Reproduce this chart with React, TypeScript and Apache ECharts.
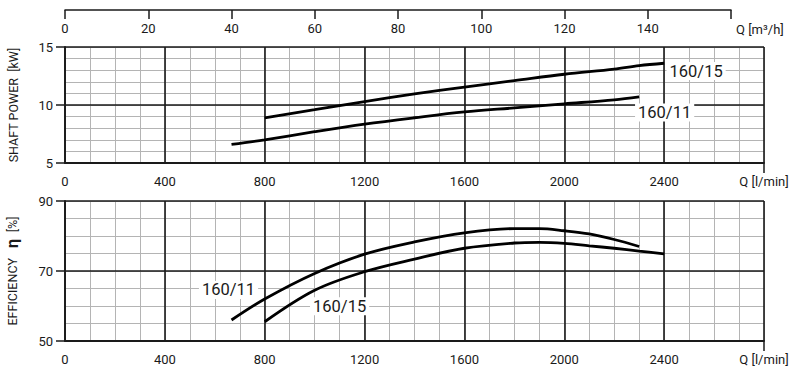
import React, { useEffect, useRef } from "react";
import * as echarts from "echarts";

// Flow axis (l/min) and m³/h scale
const m3hTicks = [0, 20, 40, 60, 80, 100, 120, 140, 160];
const m3hLabels = [0, 20, 40, 60, 80, 100, 120, 140];
const effTicks = [50, 70, 90];

// Shaft power [kW]
const flowPower15 = [800, 1000, 1200, 1400, 1600, 1800, 2000, 2200, 2300, 2400];
const power15 = [8.9, 9.6, 10.3, 10.95, 11.55, 12.1, 12.65, 13.1, 13.4, 13.6];
const flowPower11 = [667, 800, 1000, 1200, 1400, 1600, 1800, 2000, 2200, 2300];
const power11 = [6.6, 7.0, 7.7, 8.35, 8.9, 9.4, 9.75, 10.1, 10.45, 10.7];

// Efficiency [%]
const flowEff11 = [667, 800, 1000, 1200, 1400, 1600, 1800, 1900, 2000, 2100, 2200, 2300];
const eff11 = [56, 62, 69.3, 74.8, 78.3, 80.9, 82.1, 82.1, 81.5, 80.6, 79, 77];
const flowEff15 = [800, 1000, 1200, 1400, 1600, 1800, 1900, 2000, 2100, 2200, 2300, 2400];
const eff15 = [55.5, 64.5, 69.8, 73.4, 76.5, 78.0, 78.2, 77.9, 77.2, 76.5, 75.7, 74.9];

const seriesNames = ["160/15", "160/11"];

const FONT = "Roboto, 'Liberation Sans', sans-serif";
const INK = "#1a1a1a";
const MINOR = "#b4b4b4";

const zip = (xs: number[], ys: number[]) => xs.map((x, i) => [x, ys[i]]);

export default function App() {
  const ref = useRef<HTMLDivElement>(null);
  useEffect(() => {
    if (!ref.current) return;
    const chart = echarts.init(ref.current, null, { renderer: "svg" });

    const labelStyle = { color: INK, fontSize: 13, fontFamily: FONT };
    const nameStyle = { color: INK, fontSize: 12.5, fontFamily: FONT };

    const mainX = (gridIndex: number) => ({
      type: "value",
      gridIndex,
      min: 0,
      max: 2800,
      interval: 400,
      position: "bottom",
      z: 1,
      axisLine: { show: true, lineStyle: { color: INK, width: 1.8 } },
      axisTick: { show: false },
      axisLabel: {
        ...labelStyle,
        margin: 12,
        showMaxLabel: true,
        formatter: (v: number) => (v === 2800 ? "Q [l/min]" : String(v)),
      },
      splitLine: { show: true, lineStyle: { color: INK, width: 1.6 } },
    });
    const minorX = (gridIndex: number) => ({
      type: "value",
      gridIndex,
      min: 0,
      max: 2800,
      interval: 100,
      position: "bottom",
      z: 0,
      axisLine: { show: false },
      axisTick: { show: false },
      axisLabel: { show: false },
      splitLine: { show: true, lineStyle: { color: MINOR, width: 1 } },
    });
    const tickX = (gridIndex: number) => ({
      type: "value",
      gridIndex,
      min: 0,
      max: 2800,
      position: "bottom",
      z: 1,
      axisLine: { show: false },
      axisTick: { show: true, customValues: [2800], length: 10, lineStyle: { color: INK, width: 1.5 } },
      axisLabel: { show: false },
      splitLine: { show: false },
    });

    const lineSeries = (name: string, data: number[][], xi: number, yi: number, marks: any[]) => ({
      type: "line",
      name,
      xAxisIndex: xi,
      yAxisIndex: yi,
      data,
      smooth: 0.35,
      showSymbol: false,
      z: 3,
      lineStyle: { color: "#000", width: 2.8 },
      markPoint: {
        symbol: "circle",
        symbolSize: 0,
        silent: true,
        data: marks.map((m) => ({
          coord: m,
          value: name,
          label: {
            show: true,
            position: "inside",
            formatter: name,
            color: INK,
            fontSize: 16.5,
            fontFamily: FONT,
            backgroundColor: "#fff",
            padding: [1, 3, 0, 3],
          },
        })),
      },
    });

    const option: any = {
      animation: false,
      backgroundColor: "#fff",
      grid: [
        { left: 65, top: 47, width: 699, height: 116, outerBoundsMode: "none", containLabel: false },
        { left: 65, top: 201, width: 699, height: 140, outerBoundsMode: "none", containLabel: false },
        { left: 65, top: 9, width: 666, height: 1, outerBoundsMode: "none", containLabel: false },
      ],
      xAxis: [
        mainX(0),
        minorX(0),
        tickX(0),
        mainX(1),
        minorX(1),
        tickX(1),
        {
          type: "value",
          gridIndex: 2,
          min: 0,
          max: 160,
          interval: 20,
          position: "top",
          axisLine: { show: true, lineStyle: { color: INK, width: 1.5 } },
          axisTick: { show: true, inside: true, length: 9, customValues: m3hTicks, lineStyle: { color: INK, width: 1.5 } },
          axisLabel: { ...labelStyle, inside: true, margin: 13, customValues: m3hLabels },
          splitLine: { show: false },
          name: "Q [m³/h]",
          nameLocation: "end",
          nameGap: 5,
          nameTextStyle: { ...labelStyle, align: "left", verticalAlign: "top", padding: [13, 0, 0, 0] },
        },
      ],
      yAxis: [
        {
          type: "value",
          gridIndex: 0,
          min: 5,
          max: 15,
          interval: 5,
          z: 1,
          axisLine: { show: true, lineStyle: { color: INK, width: 1.8 } },
          axisTick: { show: true, length: 9, lineStyle: { color: INK, width: 1.5 } },
          axisLabel: { ...labelStyle, margin: 12 },
          splitLine: { show: true, lineStyle: { color: INK, width: 1.6 } },
          name: "SHAFT POWER  [kW]",
          nameLocation: "middle",
          nameGap: 45,
          nameTextStyle: { ...nameStyle },
        },
        {
          type: "value",
          gridIndex: 0,
          min: 5,
          max: 15,
          interval: 1,
          z: 0,
          axisLine: { show: false },
          axisTick: { show: false },
          axisLabel: { show: false },
          splitLine: { show: true, lineStyle: { color: MINOR, width: 1 } },
        },
        {
          type: "value",
          gridIndex: 1,
          min: 50,
          max: 90,
          interval: 10,
          z: 1,
          axisLine: { show: true, lineStyle: { color: INK, width: 1.8 } },
          axisTick: { show: true, length: 9, customValues: effTicks, lineStyle: { color: INK, width: 1.5 } },
          axisLabel: { ...labelStyle, margin: 12, customValues: effTicks },
          splitLine: { show: true, lineStyle: { color: INK, width: 1.6 } },
          name: "{a|EFFICIENCY}   {b|η}  {a|[%]}",
          nameLocation: "middle",
          nameGap: 45,
          nameTextStyle: {
            rich: {
              a: { ...nameStyle },
              b: { color: INK, fontSize: 16, fontWeight: "bold", fontFamily: FONT },
            },
          },
        },
        {
          type: "value",
          gridIndex: 1,
          min: 50,
          max: 90,
          interval: 5,
          z: 0,
          axisLine: { show: false },
          axisTick: { show: false },
          axisLabel: { show: false },
          splitLine: { show: true, lineStyle: { color: MINOR, width: 1 } },
        },
        { type: "value", gridIndex: 2, show: false, min: 0, max: 1 },
      ],
      series: [
        lineSeries(seriesNames[0], zip(flowPower15, power15), 0, 0, [[2528, 12.93]]),
        lineSeries(seriesNames[1], zip(flowPower11, power11), 0, 0, [[2402, 9.35]]),
        lineSeries(seriesNames[1], zip(flowEff11, eff11), 3, 2, [[655, 64.6]]),
        lineSeries(seriesNames[0], zip(flowEff15, eff15), 3, 2, [[1100, 59.9]]),
      ],
    };
    chart.setOption(option);
    return () => chart.dispose();
  }, []);

  return (
    <div
      ref={ref}
      style={{ position: "fixed", left: 0, top: 0, width: 802, height: 377, background: "#fff" }}
    />
  );
}
